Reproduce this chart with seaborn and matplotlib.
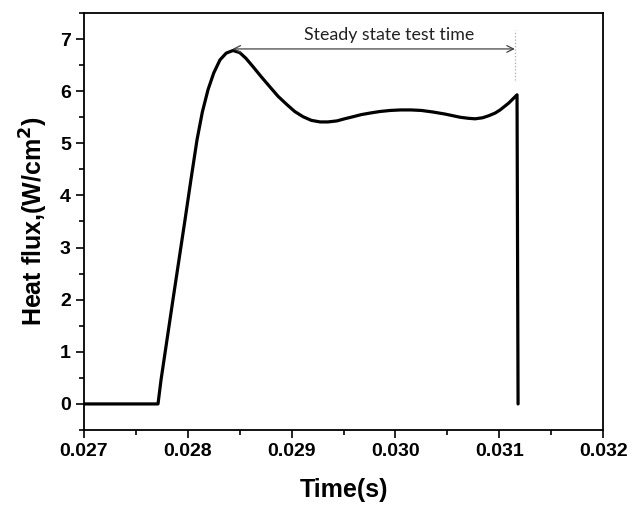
# Heat flux trace with the steady state test window marked.

import numpy as np
import pandas as pd
import seaborn as sns
import matplotlib
import matplotlib.pyplot as plt
from matplotlib.ticker import MultipleLocator, FormatStrFormatter

matplotlib.use('Agg')

# values
time_s = [0.0270, 0.027713, 0.027742, 0.027857, 0.027973, 0.028030, 0.028089,
          0.028140, 0.028195, 0.028250, 0.028310, 0.028370, 0.028435, 0.028500,
          0.028560, 0.028628, 0.028710, 0.028792, 0.028870, 0.028956, 0.029030,
          0.029110, 0.029190, 0.029274, 0.029350, 0.029437, 0.029510, 0.029592,
          0.029670, 0.029755, 0.029850, 0.029950, 0.030050, 0.030150, 0.030250,
          0.030362, 0.030480, 0.030622, 0.030700, 0.030767, 0.030840, 0.030900,
          0.030960, 0.031008, 0.031090, 0.031171, 0.031181]
heat_flux = [0.0, 0.0, 0.46, 2.00, 3.53, 4.30, 5.07,
             5.60, 6.03, 6.35, 6.60, 6.73, 6.78, 6.74,
             6.63, 6.47, 6.27, 6.08, 5.90, 5.74, 5.61,
             5.51, 5.44, 5.41, 5.41, 5.43, 5.47, 5.51,
             5.55, 5.58, 5.61, 5.63, 5.64, 5.64, 5.63,
             5.60, 5.56, 5.50, 5.48, 5.47, 5.49, 5.53,
             5.58, 5.64, 5.77, 5.93, 0.0]

window_start = 0.02843
window_end = 0.03115
window_level = 6.81
window_label = "Steady state test time"

df = pd.DataFrame({"time": time_s, "flux": heat_flux})

sns.set_style("ticks")
plt.rcParams['font.family'] = ['Liberation Sans', 'DejaVu Sans']

fig = plt.figure(figsize=(6.3, 5.05), dpi=100)
ax = fig.add_axes([0.1333, 0.1485, 0.824, 0.8258])

sns.lineplot(data=df, x="time", y="flux", color="black", linewidth=2.3,
             estimator=None, sort=False, ax=ax,
             solid_joinstyle="round", solid_capstyle="round")

# steady state window marker
ax.annotate("", xy=(window_start, window_level), xytext=(window_end, window_level),
            arrowprops=dict(arrowstyle="<->", color="#444444", lw=0.9,
                            shrinkA=0, shrinkB=0, mutation_scale=12))
ax.plot([window_end, window_end], [6.22, 7.18], color="#aaaaaa", lw=0.9, ls=":")
ax.text((window_start + window_end) / 2 + 0.00015, 6.92, window_label,
        ha="center", va="bottom", fontsize=12.8, color="#222222",
        family=["Lato", "DejaVu Sans"])

ax.set_xlim(0.027, 0.032)
ax.set_ylim(-0.5, 7.5)
ax.xaxis.set_major_locator(MultipleLocator(0.001))
ax.xaxis.set_minor_locator(MultipleLocator(0.0005))
ax.yaxis.set_major_locator(MultipleLocator(1))
ax.yaxis.set_minor_locator(MultipleLocator(0.5))
ax.xaxis.set_major_formatter(FormatStrFormatter("%.3f"))
ax.yaxis.set_major_formatter(FormatStrFormatter("%d"))

ax.tick_params(which="major", direction="out", length=6, width=1.2,
               labelsize=14, colors="black", labelcolor="black")
ax.tick_params(which="minor", direction="out", length=3.5, width=1.2, colors="black")
for lab in ax.get_xticklabels() + ax.get_yticklabels():
    lab.set_fontweight("bold")

for sp in ax.spines.values():
    sp.set_visible(True)
    sp.set_linewidth(1.3)
    sp.set_color("black")

ax.set_xlabel("Time(s)", fontsize=18, fontweight="bold", labelpad=13, color="black")
ax.set_ylabel(r"Heat flux,(W/cm$\mathbf{^2}$)", fontsize=18, fontweight="bold",
              labelpad=7, color="black")

plt.savefig("out.png", dpi=100)
